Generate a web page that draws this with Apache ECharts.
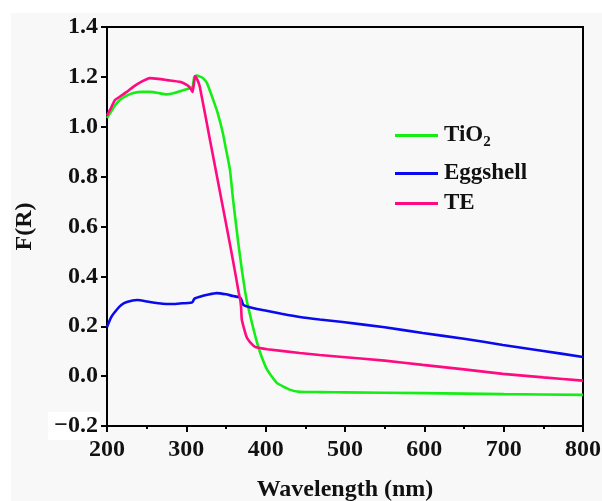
<!DOCTYPE html>
<html>
<head>
<meta charset="utf-8">
<script src="https://cdn.jsdelivr.net/npm/echarts@6/dist/echarts.min.js"></script>
<style>
  html, body { margin: 0; padding: 0; background: #ffffff; }
  #chart { width: 602px; height: 501px; }
</style>
</head>
<body>
<div id="chart"></div>
<script>
// Diffuse reflectance spectra, Kubelka–Munk F(R) vs wavelength
var seriesNames = ['TiO2', 'Eggshell', 'TE'];

var tio2Wl = [200, 205, 210, 216, 222, 233, 245, 255, 265, 275, 285, 295, 305, 308, 310, 313, 318, 321, 326, 334, 340, 346, 350, 355, 359, 365, 370, 376, 384, 390, 395, 402, 414, 431, 443, 470, 500, 600, 700, 800];
var tio2Val = [1.035, 1.06, 1.085, 1.107, 1.12, 1.135, 1.14, 1.14, 1.135, 1.13, 1.135, 1.145, 1.155, 1.16, 1.2, 1.205, 1.2, 1.195, 1.175, 1.107, 1.05, 0.975, 0.91, 0.827, 0.706, 0.546, 0.426, 0.305, 0.197, 0.125, 0.077, 0.025, -0.027, -0.055, -0.063, -0.064, -0.065, -0.068, -0.072, -0.075];

var eggWl = [200, 205, 212, 218, 225, 238, 254, 270, 283, 295, 305, 308, 310, 317, 328, 338, 350, 359, 366, 369, 372, 385, 401, 420, 443, 468, 497, 550, 598, 650, 699, 750, 800];
var eggVal = [0.197, 0.235, 0.265, 0.285, 0.297, 0.305, 0.297, 0.29, 0.289, 0.292, 0.294, 0.298, 0.31, 0.318, 0.327, 0.333, 0.328, 0.321, 0.317, 0.31, 0.285, 0.272, 0.262, 0.25, 0.237, 0.227, 0.217, 0.196, 0.173, 0.15, 0.125, 0.101, 0.077];

var teWl = [200, 205, 210, 216, 225, 233, 243, 254, 265, 276, 292, 301, 305, 308, 311, 314, 317, 330, 345, 355, 363, 366, 368, 369, 370, 376, 382, 387, 402, 443, 468, 497, 550, 598, 650, 699, 750, 800];
var teVal = [1.045, 1.075, 1.107, 1.12, 1.14, 1.16, 1.18, 1.195, 1.192, 1.187, 1.18, 1.167, 1.155, 1.14, 1.203, 1.188, 1.16, 0.944, 0.695, 0.529, 0.39, 0.335, 0.305, 0.277, 0.225, 0.157, 0.13, 0.117, 0.108, 0.093, 0.085, 0.077, 0.062, 0.045, 0.027, 0.009, -0.005, -0.018];

var seriesColors = ['#14ee14', '#0a0aee', '#ff0a80'];

function pairs(xs, ys) {
  return xs.map(function (x, i) { return [x, ys[i]]; });
}

var FONT = '"Liberation Serif", "Times New Roman", serif';
var chart = echarts.init(document.getElementById('chart'), null, { renderer: 'canvas' });

function legendItem(name, top) {
  return {
    data: [name],
    left: 395,
    top: top,
    orient: 'vertical',
    padding: 0,
    icon: 'rect',
    itemWidth: 43,
    itemHeight: 3,
    selectedMode: false,
    textStyle: {
      fontFamily: FONT,
      fontWeight: 'bold',
      fontSize: 23,
      color: '#111',
      padding: [0, 0, 0, 1],
      rich: {
        sub: { fontFamily: FONT, fontWeight: 'bold', fontSize: 15, color: '#111', padding: [14, 0, 0, 0] }
      }
    },
    formatter: function (n) { return n === 'TiO2' ? 'TiO{sub|2}' : n; }
  };
}

function line(name, data, color) {
  return {
    name: name,
    type: 'line',
    data: data,
    showSymbol: false,
    smooth: 0.15,
    lineStyle: { width: 2.6, color: color },
    itemStyle: { color: color }
  };
}

chart.setOption({
  backgroundColor: '#ffffff',
  animation: false,
  graphic: [
    { type: 'rect', z: -10, silent: true, shape: { x: 11, y: 13, width: 591, height: 488 }, style: { fill: '#f8f8f8' } },
    { type: 'rect', z: -9, silent: true, shape: { x: 48, y: 412, width: 52, height: 28 }, style: { fill: '#ffffff' } }
  ],
  grid: {
    left: 107, top: 27, right: 19, bottom: 75,
    outerBoundsMode: 'none',
    containLabel: false,
    show: true, borderColor: '#000', borderWidth: 2, backgroundColor: 'transparent'
  },
  legend: [
    legendItem('TiO2', 124),
    legendItem('Eggshell', 162),
    legendItem('TE', 192)
  ],
  xAxis: {
    type: 'value',
    min: 200, max: 800, interval: 100,
    name: 'Wavelength (nm)',
    nameLocation: 'middle',
    nameGap: 52,
    nameTextStyle: { fontFamily: FONT, fontWeight: 'bold', fontSize: 24, color: '#111' },
    axisLine: { onZero: false, lineStyle: { color: '#000', width: 2 } },
    axisTick: { show: true, length: 6, lineStyle: { color: '#000', width: 2 } },
    minorTick: { show: true, splitNumber: 2, length: 3, lineStyle: { color: '#000', width: 2 } },
    splitLine: { show: false },
    axisLabel: { fontFamily: FONT, fontWeight: 'bold', fontSize: 24, color: '#111', margin: 12 }
  },
  yAxis: {
    type: 'value',
    min: -0.2, max: 1.4, interval: 0.2,
    name: 'F(R)',
    nameLocation: 'middle',
    nameGap: 70,
    nameRotate: 90,
    nameTextStyle: { fontFamily: FONT, fontWeight: 'bold', fontSize: 24, color: '#111' },
    axisLine: { onZero: false, lineStyle: { color: '#000', width: 2 } },
    axisTick: { show: true, length: 6, lineStyle: { color: '#000', width: 2 } },
    splitLine: { show: false },
    axisLabel: {
      fontFamily: FONT, fontWeight: 'bold', fontSize: 24, color: '#111', margin: 9,
      formatter: function (v) { return (v < -1e-9 ? '\u2212' : '') + Math.abs(v).toFixed(1); }
    }
  },
  series: [
    line(seriesNames[0], pairs(tio2Wl, tio2Val), seriesColors[0]),
    line(seriesNames[1], pairs(eggWl, eggVal), seriesColors[1]),
    line(seriesNames[2], pairs(teWl, teVal), seriesColors[2])
  ]
});
</script>
</body>
</html>
